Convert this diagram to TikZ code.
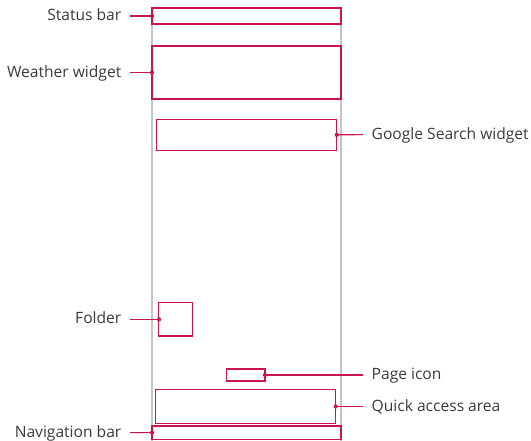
\documentclass[tikz,border=0pt]{standalone}
\usepackage{fontspec}
\setmainfont{Open Sans}
\definecolor{lgred}{HTML}{C8154B}
\definecolor{phonegray}{HTML}{C4C4C4}
\definecolor{txtgray}{HTML}{3A3A3A}
\begin{document}
\begin{tikzpicture}[x=1pt,y=-1pt,
  redbox/.style={draw=lgred,line width=1.1pt,inner sep=0pt,outer sep=0pt,anchor=north west},
  lab/.style={text=txtgray,font=\fontsize{15.6}{17}\selectfont,inner sep=0pt,text height=0.9em,text depth=0pt},
  conn/.style={draw=lgred,line width=1.1pt},
  dotm/.style={fill=lgred,circle,inner sep=0pt,minimum size=4.2pt}]
\useasboundingbox (0,0) rectangle (531,440);
\clip (0,0) rectangle (531,440);
% phone outline
\draw[phonegray,line width=1.2pt] (152,8) rectangle (341,450);
% boxes
\node[redbox,minimum width=189pt,minimum height=16pt] (status) at (152,8) {};
\node[redbox,minimum width=189pt,minimum height=53pt] (weather) at (152,46) {};
\node[redbox,minimum width=180.5pt,minimum height=31pt] (google) at (156.3,119.3) {};
\node[redbox,minimum width=34.3pt,minimum height=33.3pt] (folder) at (158.3,302.7) {};
\node[redbox,minimum width=38.3pt,minimum height=12pt] (page) at (226.7,369) {};
\node[redbox,minimum width=180.4pt,minimum height=33.6pt] (quick) at (155.3,389.7) {};
\node[redbox,minimum width=189pt,minimum height=13.3pt] (nav) at (152,426) {};
% labels
\node[lab,anchor=east] (lstatus) at (121.5,16) {Status bar};
\node[lab,anchor=east] (lweather) at (121.5,72.5) {Weather widget};
\node[lab,anchor=west] (lgoogle) at (371.5,134.6) {Google Search widget};
\node[lab,anchor=east] (lfolder) at (121.5,319.4) {Folder};
\node[lab,anchor=west] (lpage) at (371.5,375) {Page icon};
\node[lab,anchor=west] (lquick) at (371.5,406.5) {Quick access area};
\node[lab,anchor=east] (lnav) at (121.5,432.5) {Navigation bar};
% connectors
\coordinate (cfolder) at (159,319.4);
\draw[conn,shorten <=8.5pt] (lstatus.east) -- (status.west);
\draw[conn,shorten <=8.5pt] (lweather.east) -- (weather.west);
\draw[conn,shorten <=8.5pt] (lfolder.east) -- (cfolder);
\draw[conn,shorten <=8.5pt] (lnav.east) -- (nav.west);
\draw[conn,shorten <=8.5pt] (lgoogle.west) -- (google.east);
\draw[conn,shorten <=8.5pt] (lpage.west) -- (page.east);
\draw[conn,shorten <=8.5pt] (lquick.west) -- (quick.east);
% dots
\node[dotm] at (status.west) {};
\node[dotm] at (weather.west) {};
\node[dotm] at (cfolder) {};
\node[dotm] at (nav.west) {};
\node[dotm] at (google.east) {};
\node[dotm] at (page.east) {};
\node[dotm] at (quick.east) {};
\end{tikzpicture}
\end{document}
